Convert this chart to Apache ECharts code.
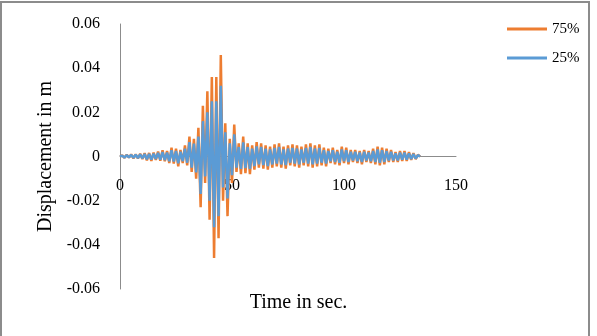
<!DOCTYPE html>
<html>
<head>
<meta charset="utf-8">
<script src="https://cdn.jsdelivr.net/npm/echarts@6/dist/echarts.min.js"></script>
<style>
  html, body { margin: 0; padding: 0; background: #fff; }
  #chart { width: 597px; height: 336px; }
</style>
</head>
<body>
<div id="chart"></div>
<script>
// time in sec. (1 s steps)
const times = []
for (let i = 0; i <= 134; i++) times.push(i)

// 75% displacement (m)
const disp75 = [
  0, 0.0005, -0.0006, 0.0008, -0.0005, 0.0009, -0.0008, 0.001, -0.0009, 0.0012,
  -0.0011, 0.0015, -0.0018, 0.0016, -0.002, 0.0018, -0.0015, 0.0022, -0.0019, 0.0028,
  -0.0022, 0.0025, -0.003, 0.004, -0.0032, 0.0035, -0.0045, 0.003, -0.003, 0.005,
  -0.004, 0.009, -0.007, 0.008, -0.01, 0.013, -0.023, 0.023, -0.012, 0.0295,
  -0.0286, 0.036, -0.046, 0.036, -0.037, 0.046, -0.02, 0.015, -0.027, 0.008,
  -0.012, 0.0145, -0.007, 0.006, -0.008, 0.009, -0.0075, 0.006, -0.008, 0.005,
  -0.006, 0.0065, -0.005, 0.006, -0.0055, 0.005, -0.006, 0.0045, -0.005, 0.0055,
  -0.0045, 0.006, -0.005, 0.0045, -0.0055, 0.005, -0.004, 0.0055, -0.0045, 0.005,
  -0.005, 0.0045, -0.004, 0.0055, -0.0045, 0.006, -0.005, 0.005, -0.0045, 0.0055,
  -0.004, 0.004, -0.0045, 0.0035, -0.003, 0.004, -0.0035, 0.003, -0.004, 0.0045,
  -0.003, 0.004, -0.0035, 0.003, -0.0025, 0.003, -0.003, 0.0025, -0.0035, 0.003,
  -0.0025, 0.0025, -0.003, 0.0035, -0.0035, 0.0045, -0.004, 0.004, -0.0035, 0.0035,
  -0.0025, 0.003, -0.0025, 0.002, -0.0025, 0.0025, -0.002, 0.0025, -0.002, 0.002,
  -0.0015, 0.0015, -0.0012, 0.0008, 0
]

// 25% displacement (m)
const disp25 = [
  0, 0.0004, -0.0005, 0.0006, -0.0004, 0.0007, -0.0006, 0.0008, -0.0007, 0.0009,
  -0.0008, 0.0011, -0.0013, 0.0012, -0.0014, 0.0013, -0.0011, 0.0016, -0.0014, 0.002,
  -0.0016, 0.0018, -0.0021, 0.0028, -0.0023, 0.0025, -0.0031, 0.0021, -0.0021, 0.0035,
  -0.0028, 0.0065, -0.005, 0.0058, -0.0072, 0.009, -0.017, 0.016, -0.009, 0.02,
  -0.02, 0.025, -0.032, 0.025, -0.027, 0.032, -0.014, 0.011, -0.019, 0.006,
  -0.0085, 0.01, -0.005, 0.0043, -0.0056, 0.0064, -0.0053, 0.0043, -0.0056, 0.0036,
  -0.0043, 0.0046, -0.0036, 0.0043, -0.0039, 0.0036, -0.0043, 0.0032, -0.0036, 0.0039,
  -0.0032, 0.0043, -0.0036, 0.0032, -0.0039, 0.0036, -0.0028, 0.0039, -0.0032, 0.0036,
  -0.0036, 0.0032, -0.0028, 0.0039, -0.0032, 0.0043, -0.0036, 0.0036, -0.0032, 0.0039,
  -0.0028, 0.0028, -0.0032, 0.0025, -0.0021, 0.0028, -0.0025, 0.0021, -0.0028, 0.0032,
  -0.0021, 0.0028, -0.0025, 0.0021, -0.0018, 0.0021, -0.0021, 0.0018, -0.0025, 0.0021,
  -0.0018, 0.0018, -0.0021, 0.0025, -0.0025, 0.0032, -0.0028, 0.0028, -0.0025, 0.0025,
  -0.0018, 0.0021, -0.0018, 0.0014, -0.0018, 0.0018, -0.0014, 0.0018, -0.0014, 0.0014,
  -0.0011, 0.0011, -0.0009, 0.0006, 0
]

const seriesNames = ['75%', '25%']
const xTicks = [0, 150, 50]      // min, max, interval
const yTicks = [-0.06, 0.06, 0.02]

const serif = 'Liberation Serif'

const myChart = echarts.init(document.getElementById('chart'))
const option = {
  animation: false,
  grid: {
    left: 120,
    right: 141,
    top: 24,
    bottom: 47
  },
  legend: {
    orient: 'vertical',
    left: 502,
    top: 16,
    icon: 'rect',
    itemWidth: 40,
    itemHeight: 3,
    itemGap: 13,
    textStyle: { fontFamily: serif, fontSize: 15, color: '#000', lineHeight: 16 },
    data: seriesNames
  },
  xAxis: {
    type: 'value',
    min: xTicks[0],
    max: xTicks[1],
    interval: xTicks[2],
    // axis sits on y = 0 (middle of the grid), labels right under it
    offset: -132.5,
    axisLine: { onZero: false, lineStyle: { color: '#8c8c8c', width: 1 } },
    axisTick: { show: false },
    splitLine: { show: false },
    axisLabel: { margin: 21, fontFamily: serif, fontSize: 16, color: '#000' }
  },
  yAxis: {
    type: 'value',
    min: yTicks[0],
    max: yTicks[1],
    interval: yTicks[2],
    name: 'Displacement in m',
    nameLocation: 'middle',
    nameGap: 64,
    nameTextStyle: { fontFamily: serif, fontSize: 20, color: '#000' },
    axisLine: { show: true, lineStyle: { color: '#8c8c8c', width: 1 } },
    axisTick: { show: false },
    splitLine: { show: false },
    axisLabel: {
      margin: 20,
      fontFamily: serif,
      fontSize: 16,
      color: '#000',
      formatter: function (v) {
        return Math.abs(v) < 1e-9 ? '0' : v.toFixed(2)
      }
    }
  },
  graphic: [
    {
      type: 'text',
      left: 'center',
      top: 293,
      style: { text: 'Time in sec.', fontFamily: serif, fontSize: 20, fill: '#000' },
      x: -10
    },
    {
      type: 'polyline',
      shape: { points: [[1, 336], [1, 2], [589, 2], [589, 336]] },
      style: { stroke: '#8c8c8c', lineWidth: 2, fill: null }
    }
  ],
  series: [
    {
      name: seriesNames[0],
      type: 'line',
      symbol: 'none',
      data: times.map((t, i) => [t, disp75[i]]),
      lineStyle: { color: '#ED7D31', width: 2.5 },
      itemStyle: { color: '#ED7D31' }
    },
    {
      name: seriesNames[1],
      type: 'line',
      symbol: 'none',
      data: times.map((t, i) => [t, disp25[i]]),
      lineStyle: { color: '#5B9BD5', width: 2.5 },
      itemStyle: { color: '#5B9BD5' }
    }
  ]
}
myChart.setOption(option)
</script>
</body>
</html>
